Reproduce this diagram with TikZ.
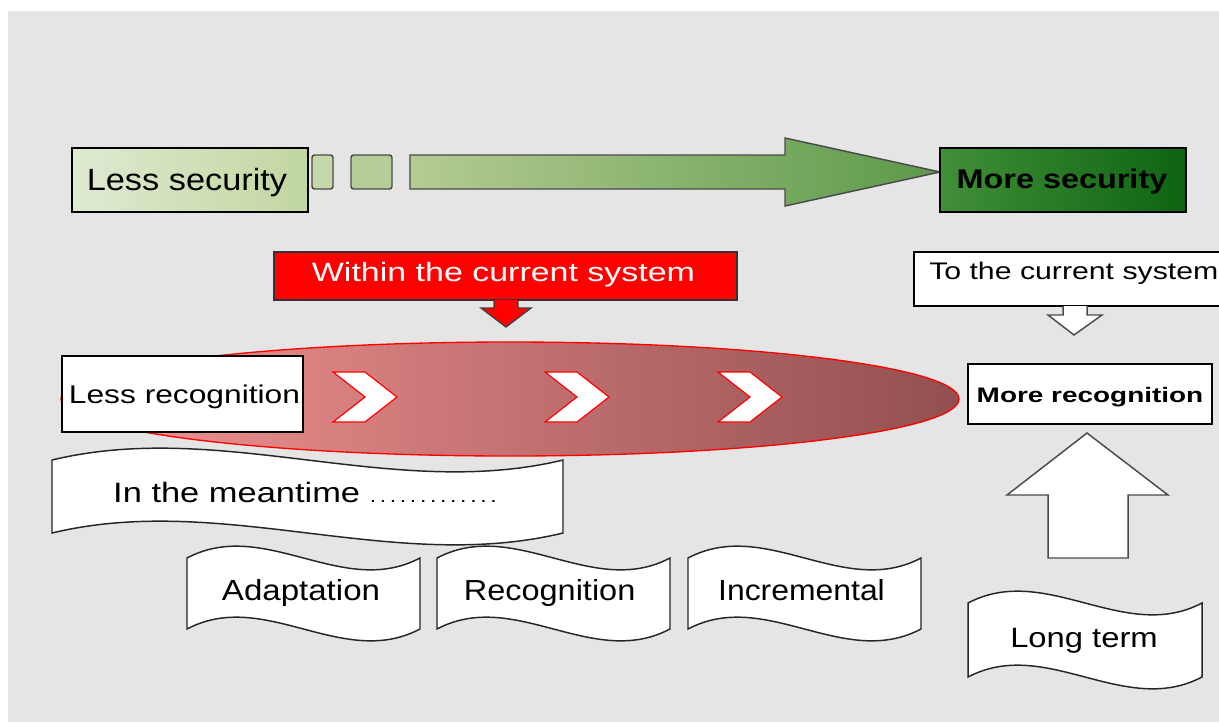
\documentclass[tikz,border=0pt]{standalone}
\usepackage{fontspec}
\setmainfont{Liberation Sans}
\definecolor{bg}{HTML}{E5E5E5}
\definecolor{lessA}{HTML}{DFEAD2}
\definecolor{lessB}{HTML}{C2D69F}
\definecolor{sqA}{HTML}{C5D8A9}
\definecolor{sqB}{HTML}{B7CD97}
\definecolor{arrA}{HTML}{B5CB94}
\definecolor{arrB}{HTML}{5C9A4A}
\definecolor{moreA}{HTML}{418F38}
\definecolor{moreB}{HTML}{0E6312}
\definecolor{ovalA}{HTML}{F59595}
\definecolor{ovalM}{HTML}{D27373}
\definecolor{ovalB}{HTML}{934F4F}
\definecolor{edgegray}{HTML}{4A4A4A}
% sized, horizontally stretched text
\newcommand\tx[3]{{\fontsize{#1}{#1}\selectfont\scalebox{#2}[1]{#3}}}
% wavy banner outline between x=#1..#3, top corners at #2, bottom corners at #4
\newcommand\wavebanner[4]{%
  \draw[banner] (#1,#2) .. controls ({#1+(#3-#1)/3},{#2-41}) and ({#1+2*(#3-#1)/3},{#2+41}) .. (#3,#2)
    -- (#3,#4) .. controls ({#1+2*(#3-#1)/3},{#4+41}) and ({#1+(#3-#1)/3},{#4-41}) .. (#1,#4) -- cycle;}
\begin{document}
\begin{tikzpicture}[x=0.75pt,y=-0.75pt,
  box/.style={draw=black, line width=1.1pt, inner sep=0pt},
  lbl/.style={inner sep=0pt, anchor=base, text=black},
  banner/.style={draw=black!85, line width=1.1pt, fill=white},
  blockarrow/.style={draw=edgegray, line width=1.1pt, fill=white, line join=miter},
  chevron/.style={draw=red, line width=0.9pt, fill=white, line join=miter},
]
\clip (0,0) rectangle (1219,722);
\fill[white] (0,0) rectangle (1219,722);
\fill[bg] (8,11) rectangle (1219,722);

% ---- security scale ----
\node[box, minimum width=177pt, minimum height=48pt, left color=lessA, right color=lessB] (lesssec) at (190,180) {};
\node[lbl] (lesssectxt) at (187,190) {\tx{23pt}{1.12}{Less security}};
\draw[draw=edgegray, line width=1.1pt, rounded corners=2pt, fill=sqA] (312,155) rectangle (333,189);
\draw[draw=edgegray, line width=1.1pt, rounded corners=2pt, fill=sqB] (351,155) rectangle (392,189);
\draw[draw=edgegray, line width=1.1pt, line join=miter, left color=arrA, right color=arrB]
  (410,155) -- (785,155) -- (785,138) -- (940,172) -- (785,206) -- (785,189) -- (410,189) -- cycle;
\node[box, minimum width=184.5pt, minimum height=48pt, left color=moreA, right color=moreB] (moresec) at (1063,180) {};
\node[lbl] (moresectxt) at (1062,188) {\tx{20.25pt}{1.2}{\bfseries More security}};

% ---- within the current system ----
\node[box, draw=black!80, fill=red, minimum width=347.25pt, minimum height=36pt] (within) at (505.5,276) {};
\node[lbl, text=white] (withintxt) at (503.5,281) {\tx{19.9pt}{1.28}{Within the current system}};
\draw[draw=black!75, line width=1pt, fill=red, line join=miter]
  (494,300) -- (494,308) -- (481,308) -- (506,327) -- (531,308) -- (518,308) -- (518,300);

% ---- to the current system ----
\node[box, fill=white, minimum width=244.5pt, minimum height=40.5pt] (tocur) at (1077,279) {};
\node[lbl, anchor=base west] (tocurtxt) at (929,279) {\tx{18pt}{1.26}{To the current system}};
\draw[blockarrow]
  (1063,306) -- (1063,315) -- (1048,315) -- (1074,335) -- (1102,315) -- (1087,315) -- (1087,306);

% ---- recognition track ----
\path[draw=red, line width=1pt, left color=ovalA, middle color=ovalM, right color=ovalB] (510,399) ellipse [x radius=336.75pt, y radius=42.75pt];
\foreach \cx in {333,545,718}{
  \draw[chevron] (\cx,372) -- ({\cx+32},372) -- ({\cx+64},397) -- ({\cx+32},422) -- (\cx,422) -- ({\cx+32},397) -- cycle;
}
\node[box, fill=white, minimum width=180.75pt, minimum height=57pt] (lessrec) at (182.5,394) {};
\node[lbl] (lessrectxt) at (184.5,403) {\tx{19.2pt}{1.24}{Less recognition}};
\node[box, fill=white, minimum width=183pt, minimum height=45pt] (morerec) at (1090,394) {};
\node[lbl] (morerectxt) at (1090,402) {\tx{15.75pt}{1.33}{\bfseries More recognition}};

% ---- banners ----
\wavebanner{52}{460}{563}{533}
\node[lbl] (meantime) at (305,502) {\tx{21pt}{1.23}{In the meantime {\fontsize{14pt}{14pt}\selectfont\addfontfeatures{LetterSpace=16}.............}}};
\wavebanner{187}{558}{420}{629}
\node[lbl] (adapt) at (301,600) {\tx{21.75pt}{1.14}{Adaptation}};
\wavebanner{437}{558}{670}{629}
\node[lbl] (recog) at (549.6,600) {\tx{21.75pt}{1.12}{Recognition}};
\wavebanner{688}{558}{921}{629}
\node[lbl] (incr) at (801.5,600) {\tx{21.75pt}{1.1}{Incremental}};
\wavebanner{968}{603}{1202}{677}
\node[lbl] (longterm) at (1084,647) {\tx{21pt}{1.17}{Long term}};

% ---- long-term push upwards ----
\draw[blockarrow]
  (1048,558) -- (1048,495) -- (1007,495) -- (1087,433) -- (1168,495) -- (1128,495) -- (1128,558) -- cycle;
\end{tikzpicture}
\end{document}
